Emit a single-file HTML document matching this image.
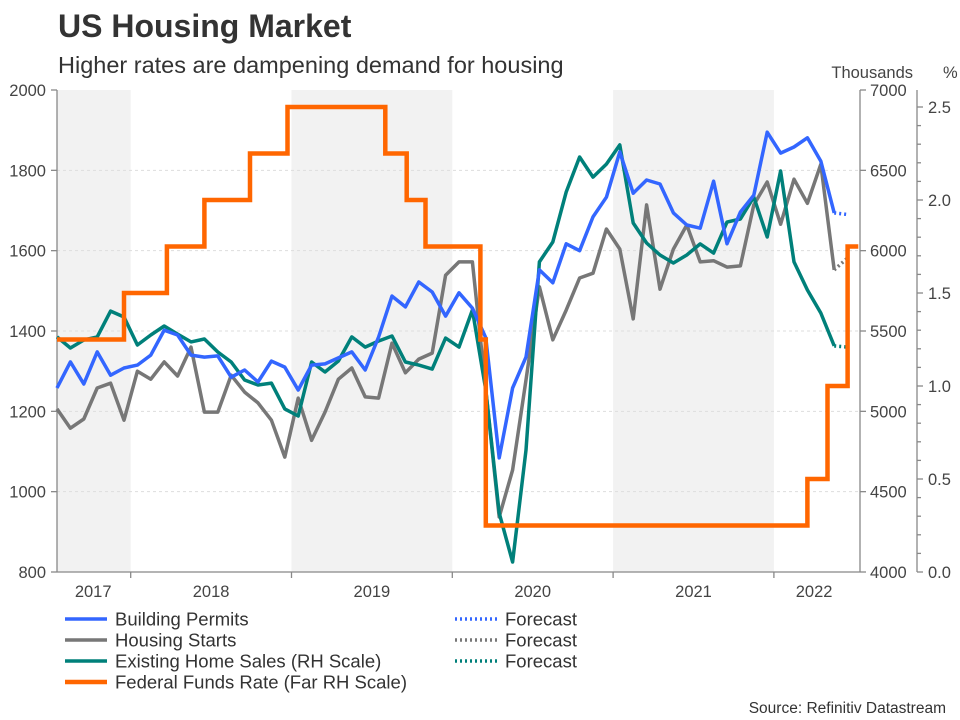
<!DOCTYPE html>
<html><head><meta charset="utf-8">
<style>
body{margin:0;background:#fff;font-family:"Liberation Sans",Arial,sans-serif;}
#wrap{position:relative;width:960px;height:720px;overflow:hidden;}
svg text{font-family:"Liberation Sans",Arial,sans-serif;}
</style></head>
<body>
<div id="wrap">
<svg id="chart" width="960" height="720"></svg>
</div>
<script>
// ---- data (month index 0 = Aug 2017) ----
const permits = [1258,1323,1268,1348,1290,1308,1315,1340,1402,1390,1340,1335,1338,1285,1303,1273,1325,1310,1253,1315,1318,1333,1348,1303,1385,1487,1460,1522,1497,1437,1495,1457,1383,1084,1258,1335,1552,1520,1617,1600,1684,1733,1846,1743,1776,1766,1694,1664,1656,1773,1617,1696,1738,1895,1843,1858,1881,1823,1694];
const permitsForecast = [1694,1690];
const starts = [1206,1158,1181,1258,1270,1178,1300,1280,1323,1288,1360,1198,1198,1290,1248,1221,1178,1086,1233,1128,1198,1280,1308,1236,1233,1370,1296,1330,1345,1539,1572,1572,1253,937,1054,1278,1510,1378,1452,1532,1544,1654,1604,1430,1714,1504,1604,1664,1572,1575,1559,1562,1714,1771,1666,1778,1718,1815,1552];
const startsForecast = [1552,1582];
const sales = [5463,5394,5444,5463,5624,5587,5413,5475,5531,5481,5432,5450,5369,5307,5195,5164,5176,5015,4971,5307,5245,5313,5463,5400,5438,5469,5307,5288,5263,5456,5400,5631,5133,4367,4062,4759,5930,6054,6365,6583,6458,6539,6658,6172,6048,5973,5923,5973,6042,5985,6178,6197,6334,6085,6496,5930,5755,5612,5407];
const salesForecast = [5407,5400];
const fedRates = [1.25,1.5,1.75,2.0,2.25,2.5,2.25,2.0,1.75,1.25,0.25,0.5,1.0,1.75];
const fedStarts = [0,5,8.2,11,14.4,17.2,24.5,26.1,27.5,31.6,32,56,57.5,59];
const fedEnd = 59.8;
const yearLabels = ['2017','2018','2019','2020','2021','2022'];
const yearCenters = [2.7,11.5,23.5,35.5,47.5,56.5];
const yearBounds = [5.5,17.5,29.5,41.5,53.5];
const leftTicks = [800,1000,1200,1400,1600,1800,2000];
const rightTicks = [4000,4500,5000,5500,6000,6500,7000];
const pctTicks = [0.0,0.5,1.0,1.5,2.0,2.5];

// ---- scales ----
const X0=57, DX=13.4, TOP=90, BOT=572, LEFTX=57, RIGHTX=860, FARX=917;
const x = t => X0 + DX*t;
const yL = v => BOT - (v-800)/1200*(BOT-TOP);
const yR = v => BOT - (v-4000)/3000*(BOT-TOP);
const yP = p => BOT - p*186;

const NS='http://www.w3.org/2000/svg';
const svg=document.getElementById('chart');
function mk(tag,attrs,parent){const e=document.createElementNS(NS,tag);for(const k in attrs)e.setAttribute(k,attrs[k]);(parent||svg).appendChild(e);return e;}
function txt(s,attrs,parent){const e=mk('text',attrs,parent);e.textContent=s;return e;}

// title
let t1=txt('US Housing Market',{x:58,y:37,'font-size':32,'font-weight':'bold',fill:'#333'});


let t2=txt('Higher rates are dampening demand for housing',{x:58,y:73,'font-size':23.5,fill:'#333'});



// bands
const bandPairs=[[LEFTX,x(yearBounds[0])],[x(yearBounds[1]),x(yearBounds[2])],[x(yearBounds[3]),x(yearBounds[4])]];
bandPairs.forEach((b,i)=>{
  const r=mk('rect',{x:b[0],y:TOP,width:b[1]-b[0],height:BOT-TOP,fill:'#f2f2f2'});
  
  
});
// gridlines
leftTicks.forEach(v=>{
  if(v===800||v===2000)return;
  const g=mk('line',{x1:LEFTX,x2:RIGHTX,y1:yL(v),y2:yL(v),stroke:'#ddd','stroke-width':1,'stroke-dasharray':'3,3'});
  
  
});

// axes
const ax=mk('g',{stroke:'#888','stroke-width':1.3,fill:'none'});


mk('line',{x1:LEFTX,x2:LEFTX,y1:TOP,y2:BOT},ax);
mk('line',{x1:LEFTX,x2:RIGHTX,y1:BOT,y2:BOT},ax);
mk('line',{x1:RIGHTX,x2:RIGHTX,y1:TOP,y2:BOT},ax);
mk('line',{x1:FARX,x2:FARX,y1:TOP,y2:BOT},ax);
leftTicks.forEach(v=>{
  mk('line',{x1:LEFTX-6,x2:LEFTX,y1:yL(v),y2:yL(v)},ax);
  const l=txt(String(v),{x:LEFTX-11,y:yL(v)+6,'font-size':16.5,fill:'#444','text-anchor':'end'});
  
  
});
rightTicks.forEach(v=>{
  mk('line',{x1:RIGHTX,x2:RIGHTX+6,y1:yR(v),y2:yR(v)},ax);
  const l=txt(String(v),{x:RIGHTX+10,y:yR(v)+6,'font-size':16.5,fill:'#444'});
  
  
});
for(let k=0;k<=25;k++){
  const p=k/10;
  mk('line',{x1:FARX,x2:FARX+(k%5===0?6:4),y1:yP(p),y2:yP(p)},ax);
}
pctTicks.forEach(p=>{
  const l=txt(p.toFixed(1),{x:FARX+11,y:yP(p)+6,'font-size':16.5,fill:'#444'});
  
  
});
yearBounds.forEach(b=>mk('line',{x1:x(b),x2:x(b),y1:BOT,y2:BOT+6},ax));
yearLabels.forEach((s,i)=>{
  const l=txt(s,{x:x(yearCenters[i]),y:597,'font-size':16.5,fill:'#444','text-anchor':'middle'});
  
  
});
let u1=txt('Thousands',{x:913,y:78,'font-size':16.5,fill:'#444','text-anchor':'end'});


let u2=txt('%',{x:943,y:78,'font-size':16.5,fill:'#444'});



// series
function line(vals,scale,color,w,dash,offset){
  const pts=vals.map((v,i)=>x(i+offset).toFixed(1)+','+scale(v).toFixed(1)).join(' ');
  const a={points:pts,fill:'none',stroke:color,'stroke-width':w,'stroke-linejoin':'round'};
  if(dash)a['stroke-dasharray']=dash;
  return mk('polyline',a);
}
const BLUE='#3366ff',GRAY='#777777',TEAL='#00807a',ORANGE='#ff6600';
let s;
s=line(starts,yL,GRAY,3.5,null,0);


s=line(startsForecast,yL,GRAY,3.5,'2,3',starts.length-1);


s=line(sales,yR,TEAL,3.5,null,0);


s=line(salesForecast,yR,TEAL,3.5,'2,3',sales.length-1);


s=line(permits,yL,BLUE,3.5,null,0);


s=line(permitsForecast,yL,BLUE,3.5,'2,3',permits.length-1);


// fed funds step
let d='';
fedRates.forEach((r,i)=>{
  const xs=x(fedStarts[i]), xe=x(i<fedRates.length-1?fedStarts[i+1]:fedEnd);
  d+=(i===0?'M':'L')+xs.toFixed(1)+','+yP(r).toFixed(1)+' L'+xe.toFixed(1)+','+yP(r).toFixed(1)+' ';
});
s=mk('path',{d:d,fill:'none',stroke:ORANGE,'stroke-width':4.5,'stroke-linejoin':'miter'});



// legend
const legend=[['Building Permits',BLUE,null,65,619],['Housing Starts',GRAY,null,65,640],['Existing Home Sales (RH Scale)',TEAL,null,65,661],['Federal Funds Rate (Far RH Scale)',ORANGE,null,65,682],
['Forecast',BLUE,'2,3',455,619],['Forecast',GRAY,'2,3',455,640],['Forecast',TEAL,'2,3',455,661]];
legend.forEach(L=>{
  const g=mk('g',{});
  
  
  const a={x1:L[3],x2:L[3]+42,y1:L[4],y2:L[4],stroke:L[1],'stroke-width':L[1]===ORANGE?4.5:3.5};
  if(L[2])a['stroke-dasharray']=L[2];
  mk('line',a,g);
  txt(L[0],{x:L[3]+50,y:L[4]+6.5,'font-size':18.5,fill:'#333'},g);
});
let src=txt('Source: Refinitiv Datastream',{x:946,y:713,'font-size':15.5,fill:'#333','text-anchor':'end'});


</script>
</body></html>
